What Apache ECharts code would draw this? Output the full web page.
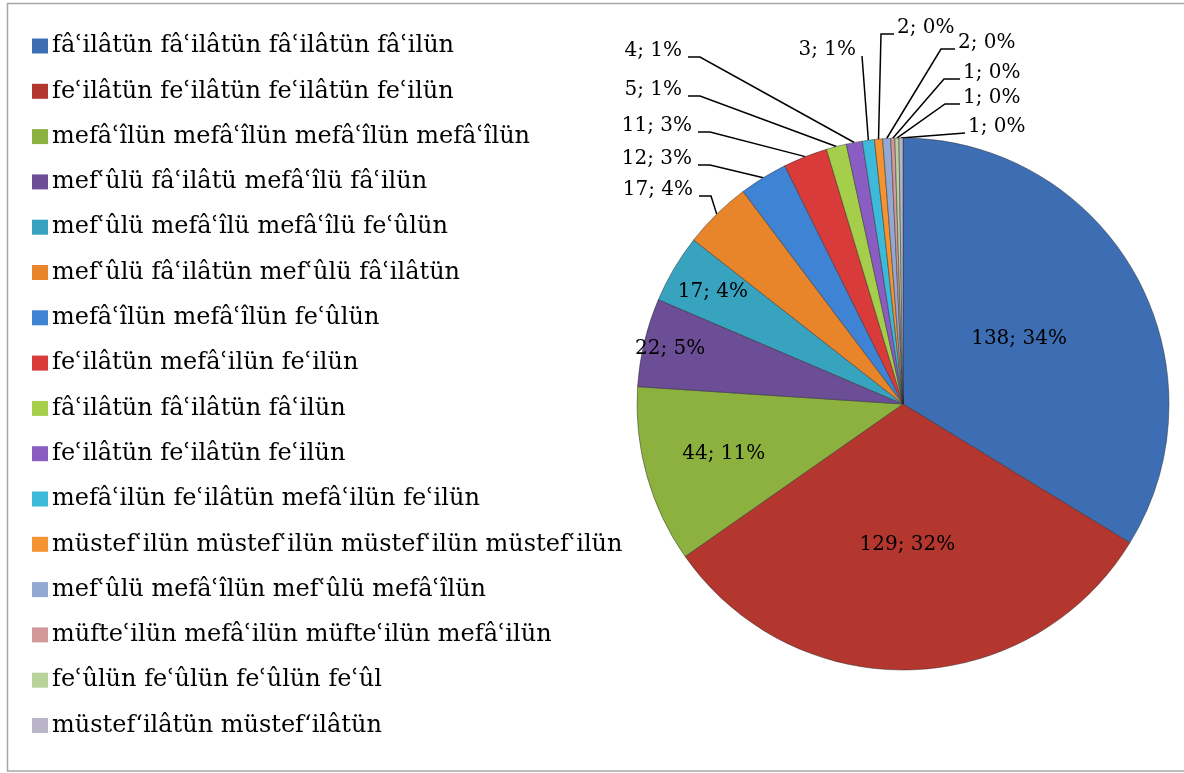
<!DOCTYPE html>
<html>
<head>
<meta charset="utf-8">
<title>aruz pie</title>
<script src="https://cdn.jsdelivr.net/npm/echarts@6/dist/echarts.min.js"></script>
<style>
  html, body { margin: 0; padding: 0; background: #fff; }
  #chart { width: 1184px; height: 773px; }
</style>
</head>
<body>
<div id="chart"></div>
<script>
  // kalıplar (legend order = slice order, clockwise from 12 o'clock)
  var names = [
    'fâʿilâtün fâʿilâtün fâʿilâtün fâʿilün',
    'feʿilâtün feʿilâtün feʿilâtün feʿilün',
    'mefâʿîlün mefâʿîlün mefâʿîlün mefâʿîlün',
    'mefʿûlü fâʿilâtü mefâʿîlü fâʿilün',
    'mefʿûlü mefâʿîlü mefâʿîlü feʿûlün',
    'mefʿûlü fâʿilâtün mefʿûlü fâʿilâtün',
    'mefâʿîlün mefâʿîlün feʿûlün',
    'feʿilâtün mefâʿilün feʿilün',
    'fâʿilâtün fâʿilâtün fâʿilün',
    'feʿilâtün feʿilâtün feʿilün',
    'mefâʿilün feʿilâtün mefâʿilün feʿilün',
    'müstefʿilün müstefʿilün müstefʿilün müstefʿilün',
    'mefʿûlü mefâʿîlün mefʿûlü mefâʿîlün',
    'müfteʿilün mefâʿilün müfteʿilün mefâʿilün',
    'feʿûlün feʿûlün feʿûlün feʿûl',
    'müstef‘ilâtün müstef‘ilâtün'
  ]
  var counts = [138, 129, 44, 22, 17, 17, 12, 11, 5, 4, 3, 2, 2, 1, 1, 1]

  var colors = [
    '#3d6db3', '#b3362f', '#8cb13f', '#6b4e96', '#37a3bf', '#e8842a',
    '#3f83d4', '#d93b3a', '#a5cf4b', '#8a5dc3', '#3dbada', '#f49331',
    '#93a9d3', '#d39899', '#b8d29a', '#b9b4c7'
  ]

  var CX = 903, CY = 404, R = 266
  var FONT = 'DejaVu Serif'

  // label placement: inside slices -> radius ratio, outside -> anchor + stub length
  var inner = { 0: 0.5, 1: 0.53, 2: 0.7, 3: 0.9, 4: 0.83 }
  var outer = {
    5: { x: 693, y: 190, align: 'right', stub: 12 },
    6: { x: 692, y: 159, align: 'right', stub: 12 },
    7: { x: 692, y: 126, align: 'right', stub: 12 },
    8: { x: 682, y: 90, align: 'right', stub: 12 },
    9: { x: 682, y: 51, align: 'right', stub: 12 },
    10: { x: 856, y: 50, align: 'right', stub: 0 },
    11: { x: 897, y: 28, align: 'left', stub: 13 },
    12: { x: 958, y: 43, align: 'left', stub: 14 },
    13: { x: 963, y: 73, align: 'left', stub: 16 },
    14: { x: 963, y: 98, align: 'left', stub: 15 },
    15: { x: 968, y: 127, align: 'left', stub: 0 }
  }

  var total = counts.reduce(function (a, b) { return a + b }, 0)
  // mid angle of each slice, radians clockwise from top
  var midAngle = []
  var acc = 0
  counts.forEach(function (v) {
    midAngle.push((acc + v / 2) / total * Math.PI * 2)
    acc += v
  })
  function onCircle (i, k) {
    return [CX + R * k * Math.sin(midAngle[i]), CY - R * k * Math.cos(midAngle[i])]
  }

  var pieData = counts.map(function (v, i) {
    var item = { name: names[i], value: v }
    if (inner[i] != null) {
      item.label = { position: 'inside' }
      item.labelLine = { show: false }
    }
    return item
  })

  var myChart = echarts.init(document.getElementById('chart'))
  myChart.setOption({
    animation: false,
    color: colors,
    graphic: [{
      type: 'rect',
      shape: { x: 7.5, y: 3.5, width: 1200, height: 767.5 },
      style: { fill: 'none', stroke: '#a6a6a6', lineWidth: 1.5 },
      silent: true
    }],
    legend: {
      orient: 'vertical',
      left: 32,
      top: 34,
      padding: 0,
      itemWidth: 16,
      itemHeight: 15,
      itemGap: 21.3,
      icon: 'rect',
      selectedMode: false,
      itemStyle: { borderWidth: 0 },
      textStyle: {
        fontFamily: FONT,
        fontSize: 24,
        color: '#000',
        padding: [0, 0, 0, -1]
      },
      data: names
    },
    series: [{
      type: 'pie',
      center: [CX, CY],
      radius: R,
      startAngle: 90,
      clockwise: true,
      avoidLabelOverlap: false,
      itemStyle: {
        borderColor: 'rgba(40,40,40,0.45)',
        borderWidth: 1
      },
      label: {
        show: true,
        position: 'outside',
        fontFamily: FONT,
        fontSize: 20,
        color: '#000',
        formatter: function (p) {
          return p.value + '; ' + Math.round(p.value / total * 100) + '%'
        }
      },
      labelLine: {
        show: true,
        length: 10,
        length2: 10,
        lineStyle: { color: '#000', width: 1.5 }
      },
      labelLayout: function (params) {
        var i = params.dataIndex
        if (inner[i] != null) {
          var p = onCircle(i, inner[i])
          return { x: p[0], y: p[1], align: 'center', verticalAlign: 'middle' }
        }
        var o = outer[i]
        if (!o) return {}
        var ly = o.y + 6
        var lx = o.align === 'right' ? o.x + 6 : o.x - 3
        var sx = o.align === 'right' ? lx + o.stub : lx - o.stub
        var pts = [[lx, ly], [sx, ly], onCircle(i, 1)]
        return {
          x: o.x,
          y: o.y,
          align: o.align,
          verticalAlign: 'middle',
          labelLinePoints: pts
        }
      },
      data: pieData
    }]
  })
</script>
</body>
</html>
